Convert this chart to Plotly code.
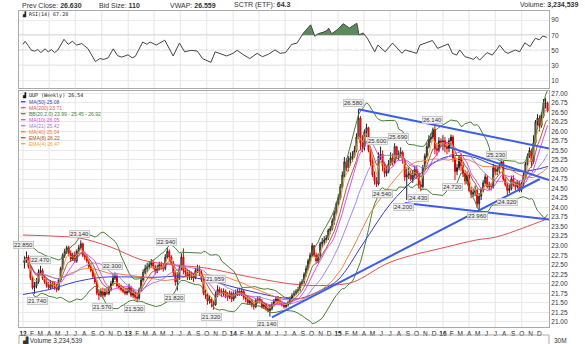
import numpy as np
import pandas as pd
import plotly.graph_objects as go

# ---------------- DATA ----------------
first_open = 22.55
close_2012 = [22.62, 22.70, 22.45, 22.15, 21.90, 21.95, 22.05, 22.30, 22.35, 22.15, 22.05, 21.95, 21.90,
              22.00, 21.95, 21.90, 21.85, 22.10, 22.40, 22.75, 22.85, 22.95, 22.80, 22.65, 22.75, 22.60,
              22.85, 22.95, 23.05, 22.75, 22.70, 22.60, 22.45, 22.35, 22.20, 22.05, 21.75, 21.70, 21.80,
              21.70, 21.80, 21.75, 21.85, 22.00, 22.15, 22.20, 21.95, 21.90, 21.85, 21.80, 21.75, 21.80]
high_2012 = [22.72, 22.85, 22.75, 22.50, 22.20, 22.05, 22.15, 22.38, 22.47, 22.40, 22.22, 22.12, 22.05,
             22.10, 22.08, 22.05, 22.00, 22.15, 22.45, 22.80, 22.92, 23.00, 23.00, 22.88, 22.82, 22.85,
             22.90, 23.02, 23.14, 23.08, 22.85, 22.78, 22.65, 22.55, 22.42, 22.28, 22.10, 21.85, 21.88,
             21.90, 21.88, 21.90, 21.95, 22.08, 22.25, 22.30, 22.25, 22.02, 21.98, 21.92, 21.88, 21.90]
low_2012 = [22.40, 22.55, 22.40, 22.10, 21.85, 21.74, 21.88, 22.00, 22.22, 22.10, 22.00, 21.90, 21.85,
            21.85, 21.88, 21.84, 21.78, 21.82, 22.05, 22.35, 22.68, 22.78, 22.72, 22.58, 22.60, 22.55,
            22.55, 22.78, 22.88, 22.70, 22.62, 22.55, 22.40, 22.30, 22.15, 22.00, 21.70, 21.57, 21.65,
            21.62, 21.65, 21.70, 21.70, 21.80, 21.95, 22.10, 21.90, 21.85, 21.80, 21.75, 21.70, 21.70]

close_2013 = [21.90, 21.70, 21.75, 21.65, 21.62, 21.85, 22.10, 22.30, 22.40, 22.45, 22.50, 22.55, 22.45,
              22.35, 22.40, 22.50, 22.45, 22.40, 22.70, 22.85, 22.70, 22.55, 22.30, 22.05, 22.15, 22.40,
              22.70, 22.35, 22.30, 22.20, 22.25, 22.20, 22.15, 22.35, 22.40, 22.30, 22.10, 21.75, 21.70,
              21.55, 21.60, 21.50, 21.45, 21.70, 21.85, 21.80, 21.75, 21.80, 21.70, 21.65, 21.75, 21.60]
high_2013 = [22.00, 21.95, 21.85, 21.80, 21.75, 21.90, 22.18, 22.38, 22.50, 22.55, 22.60, 22.65, 22.62,
             22.50, 22.50, 22.58, 22.58, 22.55, 22.78, 22.94, 22.90, 22.75, 22.60, 22.35, 22.30, 22.50,
             22.80, 22.93, 22.45, 22.38, 22.35, 22.32, 22.28, 22.42, 22.50, 22.48, 22.35, 22.15, 21.85,
             21.75, 21.70, 21.65, 21.55, 21.80, 21.96, 21.92, 21.88, 21.88, 21.85, 21.78, 21.82, 21.80]
low_2013 = [21.75, 21.65, 21.62, 21.58, 21.53, 21.58, 21.80, 22.05, 22.25, 22.30, 22.38, 22.42, 22.38,
            22.25, 22.28, 22.35, 22.38, 22.32, 22.35, 22.65, 22.60, 22.48, 22.20, 21.95, 21.82, 22.10,
            22.35, 22.25, 22.20, 22.10, 22.10, 22.10, 22.05, 22.12, 22.28, 22.20, 22.05, 21.70, 21.60,
            21.45, 21.48, 21.38, 21.32, 21.42, 21.65, 21.70, 21.65, 21.68, 21.62, 21.55, 21.60, 21.52]

close_2014 = [21.70, 21.75, 21.80, 21.75, 21.80, 21.65, 21.60, 21.50, 21.55, 21.45, 21.40, 21.55, 21.60,
              21.55, 21.40, 21.45, 21.35, 21.30, 21.35, 21.45, 21.55, 21.60, 21.55, 21.50, 21.45, 21.40,
              21.45, 21.50, 21.60, 21.70, 21.75, 21.80, 21.85, 22.00, 22.05, 22.25, 22.40, 22.60, 22.75,
              23.00, 22.75, 22.60, 22.75, 23.05, 23.10, 23.15, 23.20, 23.40, 23.45, 23.65, 23.85, 24.10]
high_2014 = [21.80, 21.85, 21.88, 21.90, 21.90, 21.85, 21.72, 21.66, 21.62, 21.60, 21.52, 21.62, 21.68,
             21.68, 21.60, 21.52, 21.50, 21.42, 21.45, 21.52, 21.60, 21.66, 21.68, 21.62, 21.56, 21.52,
             21.50, 21.56, 21.65, 21.75, 21.82, 21.86, 21.92, 22.06, 22.12, 22.30, 22.48, 22.66, 22.82,
             23.07, 23.02, 22.82, 22.80, 23.10, 23.20, 23.25, 23.28, 23.45, 23.52, 23.72, 23.92, 24.15]
low_2014 = [21.55, 21.62, 21.68, 21.68, 21.68, 21.58, 21.52, 21.45, 21.45, 21.38, 21.32, 21.36, 21.48,
            21.48, 21.35, 21.34, 21.30, 21.25, 21.14, 21.30, 21.40, 21.50, 21.48, 21.45, 21.40, 21.35,
            21.36, 21.40, 21.46, 21.55, 21.65, 21.70, 21.75, 21.80, 21.95, 22.00, 22.18, 22.35, 22.55,
            22.70, 22.70, 22.55, 22.55, 22.68, 22.95, 23.02, 23.08, 23.15, 23.30, 23.40, 23.55, 23.80]

close_2015 = [24.25, 24.55, 24.85, 25.20, 25.05, 25.25, 25.30, 25.35, 25.50, 25.85, 26.35, 25.70, 25.60,
              26.00, 26.10, 25.50, 25.20, 24.85, 24.70, 24.62, 25.35, 25.40, 25.10, 24.90, 24.95, 25.15,
              25.30, 25.20, 25.60, 25.35, 25.40, 25.45, 25.25, 24.80, 24.85, 24.90, 24.75, 24.85, 25.00,
              24.85, 24.60, 24.55, 25.05, 25.35, 25.60, 25.80, 25.85, 26.05, 25.55, 25.50, 25.75, 25.70]
high_2015 = [24.35, 24.62, 24.95, 25.33, 25.30, 25.35, 25.45, 25.48, 25.62, 25.95, 26.58, 26.40, 25.90,
             26.05, 26.20, 26.12, 25.60, 25.30, 24.95, 24.80, 25.45, 25.60, 25.50, 25.20, 25.10, 25.25,
             25.45, 25.42, 25.69, 25.62, 25.50, 25.58, 25.50, 25.30, 25.05, 25.05, 24.98, 24.98, 25.10,
             25.10, 24.90, 24.70, 25.12, 25.42, 25.70, 25.90, 25.95, 26.10, 26.14, 25.70, 25.85, 25.82]
low_2015 = [24.05, 24.20, 24.50, 24.80, 24.95, 24.95, 25.10, 25.20, 25.30, 25.45, 25.80, 25.50, 25.45,
            25.50, 25.85, 25.45, 25.10, 24.80, 24.60, 24.54, 24.58, 25.25, 24.95, 24.80, 24.82, 24.90,
            25.10, 25.10, 25.15, 25.28, 25.25, 25.35, 25.15, 24.70, 24.20, 24.75, 24.70, 24.65, 24.78,
            24.75, 24.50, 24.43, 24.50, 24.95, 25.30, 25.55, 25.70, 25.80, 25.40, 25.35, 25.45, 25.60]

close_2016 = [25.75, 25.60, 25.55, 25.75, 25.85, 25.30, 24.95, 25.05, 25.30, 25.10, 24.90, 24.70, 24.85,
              24.45, 24.35, 24.40, 24.45, 24.10, 24.30, 24.45, 24.65, 24.80, 24.55, 24.60, 24.55, 25.05,
              24.95, 25.00, 25.10, 25.20, 24.75, 24.60, 24.45, 24.50, 24.75, 24.60, 24.55, 24.65, 24.45,
              24.60, 24.85, 25.15, 25.35, 25.50, 25.20, 25.70, 26.25, 26.35, 26.15, 26.40, 26.75, 26.75,
              26.54]
high_2016 = [25.90, 25.85, 25.72, 25.82, 25.92, 25.90, 25.35, 25.15, 25.38, 25.42, 25.20, 24.98, 24.95,
             24.90, 24.55, 24.50, 24.58, 24.50, 24.38, 24.52, 24.72, 24.88, 24.85, 24.68, 24.65, 25.15,
             25.12, 25.10, 25.18, 25.23, 25.22, 24.80, 24.65, 24.62, 24.82, 24.85, 24.68, 24.72, 24.70,
             24.68, 24.92, 25.20, 25.42, 25.58, 25.55, 25.90, 26.30, 26.45, 26.42, 26.50, 26.85, 26.88,
             26.78]
low_2016 = [25.50, 25.45, 25.40, 25.45, 25.60, 25.20, 24.72, 24.85, 24.98, 24.95, 24.80, 24.60, 24.62,
            24.40, 24.25, 24.28, 24.30, 24.00, 23.96, 24.20, 24.40, 24.60, 24.50, 24.45, 24.45, 24.50,
            24.85, 24.85, 24.90, 25.05, 24.70, 24.55, 24.32, 24.38, 24.45, 24.55, 24.45, 24.50, 24.40,
            24.40, 24.55, 24.80, 25.10, 25.30, 25.05, 25.15, 25.65, 26.15, 26.00, 26.10, 26.35, 26.60,
            26.50]

# MA(50) and MA(200) (decimal years)
ma50_t = [2012.00, 2012.25, 2012.50, 2012.75, 2013.00, 2013.25, 2013.50, 2013.75, 2014.00, 2014.25,
          2014.50, 2014.65, 2014.85, 2015.00, 2015.25, 2015.50, 2015.75, 2016.00, 2016.25, 2016.50,
          2016.75, 2017.00]
ma50_v = [21.72, 21.85, 22.05, 22.17, 22.18, 22.17, 22.20, 22.10, 21.92, 21.75,
          21.62, 21.62, 21.85, 22.10, 23.10, 24.10, 24.80, 25.30, 25.35, 25.10,
          24.95, 25.08]
ma200_t = [2012.00, 2012.30, 2012.54, 2012.83, 2013.14, 2013.47, 2013.75, 2014.16, 2014.64, 2014.97,
           2015.15, 2015.50, 2016.04, 2016.32, 2016.51, 2016.76, 2017.00]
ma200_v = [23.28, 23.25, 23.20, 22.97, 22.62, 22.49, 22.41, 22.18, 21.97, 21.97,
           22.05, 22.57, 22.97, 23.15, 23.23, 23.46, 23.71]

# RSI(14) (decimal years)
rsi_t = [2012.00, 2012.02, 2012.05, 2012.08, 2012.11, 2012.14, 2012.17, 2012.21, 2012.24, 2012.27,
         2012.30, 2012.33, 2012.39, 2012.43, 2012.47, 2012.51, 2012.56, 2012.62, 2012.69, 2012.73,
         2012.77, 2012.81, 2012.86, 2012.90, 2012.94, 2013.00, 2013.04, 2013.07, 2013.14, 2013.18,
         2013.21, 2013.27, 2013.35, 2013.43, 2013.49, 2013.54, 2013.60, 2013.66, 2013.71, 2013.79,
         2013.83, 2013.89, 2013.94, 2014.00, 2014.04, 2014.09, 2014.13, 2014.16, 2014.23, 2014.28,
         2014.34, 2014.40, 2014.45, 2014.50, 2014.56, 2014.61, 2014.67, 2014.74, 2014.78, 2014.81,
         2014.86, 2014.90, 2014.91, 2014.94, 2015.00, 2015.05, 2015.11, 2015.18, 2015.20, 2015.24,
         2015.28, 2015.35, 2015.38, 2015.45, 2015.52, 2015.61, 2015.64, 2015.70, 2015.75, 2015.78,
         2015.86, 2015.90, 2015.95, 2016.00, 2016.05, 2016.09, 2016.13, 2016.16, 2016.21, 2016.25,
         2016.29, 2016.32, 2016.35, 2016.42, 2016.47, 2016.52, 2016.54, 2016.59, 2016.62, 2016.69,
         2016.73, 2016.78, 2016.83, 2016.88, 2016.92, 2016.95, 2016.99]
rsi_v = [58, 62, 56, 50, 49, 51, 47, 52, 48, 51,
         47, 50, 64.6, 58, 62, 57, 59, 52, 35, 39,
         38, 40, 52, 43, 41, 44, 40, 42, 61, 58,
         61, 57, 63.5, 42.5, 59.6, 48, 50, 49, 39, 34,
         48, 45, 42.5, 46, 50, 45, 41.5, 39, 46, 41.5,
         45, 50.5, 46, 47, 58, 59.6, 72.8, 83.9, 68.6, 72,
         74, 76.5, 79.6, 72, 78, 85.3, 79.6, 86, 70.5, 73,
         66, 48, 57, 48, 59.6, 46, 50.5, 48, 46, 57,
         61.5, 63, 52.6, 55.7, 58.5, 46, 43.7, 50.5, 41.5, 40,
         38, 41.5, 37, 47, 43.7, 52.6, 57, 48, 46, 50.5,
         48, 60, 55, 66, 64, 69, 67.28]

# Labelled highs / lows
label_dates = ["2012-01-01", "2012-03-01", "2012-02-19", "2012-07-14", "2012-10-02", "2012-11-06",
               "2013-01-22", "2013-05-13", "2013-06-10", "2013-10-30", "2013-10-16", "2014-04-29",
               "2015-02-25", "2015-05-19", "2015-07-31", "2015-06-06", "2015-08-18", "2015-10-09",
               "2015-11-27", "2016-02-04", "2016-05-01", "2016-07-06", "2016-08-11"]
label_values = [22.850, 22.470, 21.740, 23.140, 21.570, 22.300, 21.530, 22.940, 21.820, 21.959,
                21.320, 21.140, 26.580, 25.600, 25.690, 24.540, 24.200, 24.430, 26.140, 24.720,
                23.960, 25.230, 24.320]
label_above = [1, 1, 0, 1, 0, 1, 0, 1, 0, 1, 0, 0, 1, 1, 1, 0, 0, 0, 1, 0, 0, 1, 0]

# Trend lines (start date/price -> end date/price)
trend_start_dates = ["2014-05-16", "2015-03-13", "2015-08-21", "2016-01-25"]
trend_start_prices = [21.12, 26.58, 24.12, 25.58]
trend_end_dates = ["2016-12-03", "2017-01-04", "2017-01-04", "2017-01-04"]
trend_end_prices = [24.75, 25.55, 23.69, 24.72]

# Legend texts (as printed on the chart)
legend_texts = ["MA(50) 25.08", "MA(200) 23.71", "BB(20,2.0) 23.99 - 25.45 - 26.92", "MA(10) 26.05",
                "MA(21) 25.42", "MA(40) 25.04", "EMA(8) 26.22", "EMA(4) 26.47"]
legend_colors = ["#3b3bd0", "#e05050", "#4a7f33", "#ee33ee", "#9a7aee", "#f07830", "#a0522d", "#f0a030"]

# Month tick labels
month_letters = ["J", "F", "M", "A", "M", "J", "J", "A", "S", "O", "N", "D"]

# ---------------- BUILD ----------------
W, H = 585, 344
def px(x): return x / W
def py(y): return 1 - y / H

def dy(t):
    return pd.Timestamp("2012-01-01") + pd.to_timedelta((np.asarray(t, dtype=float) - 2012) * 365.25, unit="D")

close = close_2012 + close_2013 + close_2014 + close_2015 + close_2016
high = high_2012 + high_2013 + high_2014 + high_2015 + high_2016
low = low_2012 + low_2013 + low_2014 + low_2015 + low_2016
dates = pd.date_range("2012-01-06", periods=len(close), freq="W-FRI")
c = pd.Series(close, index=dates)
o = c.shift(1)
o.iloc[0] = first_open

ma10 = c.rolling(10, min_periods=1).mean()
ma21 = c.rolling(21, min_periods=1).mean()
ma40 = c.rolling(40, min_periods=1).mean()
ema8 = c.ewm(span=8, adjust=False).mean()
ema4 = c.ewm(span=4, adjust=False).mean()
bb_mid = c.rolling(20, min_periods=5).mean()
bb_sd = c.rolling(20, min_periods=5).std(ddof=0)
bb_up = bb_mid + 2 * bb_sd
bb_lo = bb_mid - 2 * bb_sd

fig = go.Figure()

# Bollinger bands
for s in (bb_up, bb_lo):
    fig.add_trace(go.Scatter(x=dates, y=s, mode="lines", line=dict(color=legend_colors[2], width=1),
                             xaxis="x", yaxis="y", hoverinfo="skip", showlegend=False))
# MA(200), MA(50)
fig.add_trace(go.Scatter(x=dy(ma200_t), y=ma200_v, mode="lines", line=dict(color=legend_colors[1], width=1, shape="spline"),
                         xaxis="x", yaxis="y", hoverinfo="skip", showlegend=False))
fig.add_trace(go.Scatter(x=dy(ma50_t), y=ma50_v, mode="lines", line=dict(color=legend_colors[0], width=1, shape="spline"),
                         xaxis="x", yaxis="y", hoverinfo="skip", showlegend=False))
# candles
fig.add_trace(go.Candlestick(x=dates, open=o, high=high, low=low, close=c,
                             increasing=dict(line=dict(color="#222222", width=1), fillcolor="white"),
                             decreasing=dict(line=dict(color="#dd0000", width=1), fillcolor="#ff2020"),
                             whiskerwidth=0, xaxis="x", yaxis="y", hoverinfo="skip", showlegend=False))
# other MAs
for s, col in ((ma40, legend_colors[5]), (ma21, legend_colors[4]), (ma10, legend_colors[3]),
               (ema8, legend_colors[6]), (ema4, legend_colors[7])):
    fig.add_trace(go.Scatter(x=dates, y=s, mode="lines", line=dict(color=col, width=1),
                             xaxis="x", yaxis="y", hoverinfo="skip", showlegend=False, opacity=0.9))
# trend lines
for sd, sp, ed, ep in zip(trend_start_dates, trend_start_prices, trend_end_dates, trend_end_prices):
    fig.add_trace(go.Scatter(x=[sd, ed], y=[sp, ep], mode="lines", line=dict(color="#3a5ee8", width=2),
                             xaxis="x", yaxis="y", hoverinfo="skip", showlegend=False))

# RSI with fill above 70
rd = dy(rsi_t)
rv = np.array(rsi_v, dtype=float)
fx, fy = [], []
for i in range(len(rv)):
    if i > 0 and (rv[i - 1] - 70) * (rv[i] - 70) < 0:
        f = (70 - rv[i - 1]) / (rv[i] - rv[i - 1])
        fx.append(rd[i - 1] + (rd[i] - rd[i - 1]) * f)
        fy.append(70.0)
    fx.append(rd[i])
    fy.append(max(rv[i], 70.0))
fig.add_trace(go.Scatter(x=fx, y=[70.0] * len(fx), mode="lines", line=dict(width=0),
                         xaxis="x2", yaxis="y2", hoverinfo="skip", showlegend=False))
fig.add_trace(go.Scatter(x=fx, y=fy, mode="lines", line=dict(width=0), fill="tonexty",
                         fillcolor="#5d8a5d", xaxis="x2", yaxis="y2", hoverinfo="skip", showlegend=False))
fig.add_trace(go.Scatter(x=rd, y=rv, mode="lines", line=dict(color="#444444", width=1),
                         xaxis="x2", yaxis="y2", hoverinfo="skip", showlegend=False))

# month ticks
tickvals = pd.date_range("2012-01-01", "2016-12-01", freq="MS")
ticktext = [("<b>%02d</b>" % (d.year % 100)) if d.month == 1 else month_letters[d.month - 1] for d in tickvals]

xdom = [px(19), px(549)]
xr = ["2011-12-18", "2017-01-04"]
font = "Liberation Sans"
fig.update_layout(
    width=W, height=H, autosize=False, margin=dict(l=0, r=0, t=0, b=0, pad=0),
    paper_bgcolor="white", plot_bgcolor="white", hovermode=False, showlegend=False,
    font=dict(family=font, size=7, color="#333"),
    xaxis=dict(domain=xdom, range=xr, anchor="y", tickvals=tickvals, ticktext=ticktext,
               tickfont=dict(size=6.5, color="#222"), showgrid=False, showline=True, linecolor="#aaaaaa",
               mirror=True, ticks="", rangeslider=dict(visible=False), zeroline=False),
    yaxis=dict(domain=[py(327), py(91)], range=[20.866, 27.06], side="right", dtick=0.25, tick0=21,
               tickformat=".2f", gridcolor="#e9e9e9", showline=True, linecolor="#aaaaaa", mirror=True,
               ticks="", tickfont=dict(size=6.5, color="#333"), zeroline=False),
    xaxis2=dict(domain=xdom, range=xr, anchor="y2", matches="x", showticklabels=False, showgrid=False,
                showline=True, linecolor="#aaaaaa", mirror=True, ticks="", zeroline=False),
    yaxis2=dict(domain=[py(88), py(11)], range=[0, 102.2], side="right", tickvals=[10, 30, 50, 70, 90],
                gridcolor="#ececec", showline=True, linecolor="#aaaaaa", mirror=True, ticks="",
                tickfont=dict(size=6.5, color="#333"), zeroline=False),
)

shapes = []
# quarterly vertical grid lines
for d in pd.date_range("2012-01-01", "2016-12-31", freq="QS"):
    for yr in ("y domain", "y2 domain"):
        shapes.append(dict(type="line", xref="x", yref=yr, x0=d, x1=d, y0=0, y1=1,
                           line=dict(color="#e6e6e6", width=1), layer="below"))
# RSI reference lines
for lvl, dash in ((70, "solid"), (30, "solid"), (50, "dashdot")):
    shapes.append(dict(type="line", xref="x2 domain", yref="y2", x0=0, x1=1, y0=lvl, y1=lvl,
                       line=dict(color="#8a8a8a", width=1, dash=dash), layer="below"))
# volume strip
shapes.append(dict(type="rect", xref="paper", yref="paper", x0=px(19), x1=px(549), y0=py(345), y1=py(335),
                   line=dict(color="#aaaaaa", width=1)))
# legend dashes
leg_y = [101.7, 107.7, 113.7, 119.7, 125.7, 131.7, 137.7, 143.7]
for yy, col in zip(leg_y, legend_colors):
    shapes.append(dict(type="line", xref="paper", yref="paper", x0=px(21), x1=px(25.5), y0=py(yy), y1=py(yy),
                       line=dict(color=col, width=1.2)))
fig.update_layout(shapes=shapes)

ann = []
def A(x, y, text, size=7, color="#333", xanchor="left", family=font, **kw):
    ann.append(dict(x=px(x), y=py(y), xref="paper", yref="paper", text=text, showarrow=False,
                    xanchor=xanchor, yanchor="middle", font=dict(size=size, color=color, family=family), **kw))

# header
A(20, 5, "Prev Close: <b>26.630</b>", 7)
A(97, 5, "Bid Size: <b>110</b>", 7)
A(168, 5, "VWAP: <b>26.559</b>", 7)
A(232, 5, "SCTR (ETF): <b>64.3</b>", 7)
A(580, 5, "Volume: <b>3,234,539</b>", 7, xanchor="right")
# panel titles
A(20, 14.5, "▟ RSI(14) 67.28", 5, "#222", family="DejaVu Sans Mono")
A(20, 95.5, "▟ UUP (Weekly) 26.54", 5, "#111", family="DejaVu Sans Mono")
for yy, col, t in zip(leg_y, legend_colors, legend_texts):
    A(26.5, yy, t, 5, col)
A(20, 340, "▟ Volume 3,234,539", 6.5, "#333")
A(552, 340, "30M", 6.5, "#333")

# value labels
for d, v, ab in zip(label_dates, label_values, label_above):
    ann.append(dict(x=d, y=v, xref="x", yref="y", text="%.3f" % v, showarrow=False,
                    xanchor="center", yanchor="middle", yshift=6 if ab else -7,
                    font=dict(size=6, color="#333", family=font),
                    bgcolor="rgba(240,240,240,0.9)", bordercolor="#c8c8c8", borderwidth=1, borderpad=0))
fig.update_layout(annotations=ann)

fig.write_html("out.html", include_plotlyjs=True, config={"displayModeBar": False})
